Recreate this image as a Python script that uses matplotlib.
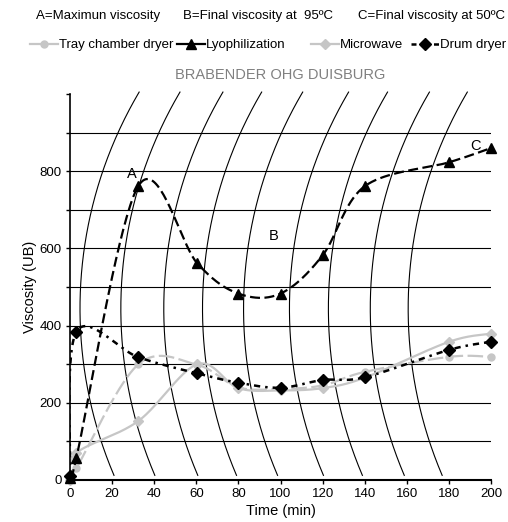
import numpy as np
from matplotlib import pyplot as plt
from matplotlib.lines import Line2D

# time (min) of the readings
time_min = [0, 3, 32.5, 60.5, 80, 100, 120, 140, 180, 200]

# viscosity (UB) for each drying method
tray_ub = [0, 30, 300, 298, 240, 236, 245, 280, 319, 319]
lyo_ub = [5, 57, 762, 561, 483, 483, 582, 761, 823, 860]
microwave_ub = [0, 70, 153, 300, 238, 232, 238, 265, 358, 379]
drum_ub = [10, 384, 318, 276, 252, 239, 259, 266, 337, 358]

# where the curved time lines of the recorder paper meet the bottom
paper_lines = [20.9, 40.3, 60.7, 79.1, 98.6, 120.4, 138.9, 158.8, 176.8]

x_ticks = [0, 20, 40, 60, 80, 100, 120, 140, 160, 180, 200]
y_ticks = [0, 100, 200, 300, 400, 500, 600, 700, 800, 900, 1000]
y_labels = ['0', '', '200', '', '400', '', '600', '', '800', '', '']

GRAY = '#c6c6c6'
plt.rcParams['font.family'] = ['Liberation Sans', 'DejaVu Sans']


# Bezier smoothing, close to what a spreadsheet "smoothed line" does
def smooth(xs, ys, n=40):
    pts = np.column_stack([xs, ys]).astype(float)
    out = []
    for i in range(len(pts) - 1):
        p0 = pts[i - 1] if i > 0 else pts[i]
        p1 = pts[i]
        p2 = pts[i + 1]
        p3 = pts[i + 2] if i + 2 < len(pts) else pts[i + 1]
        c1 = p1 + (p2 - p0) / 6
        c2 = p2 - (p3 - p1) / 6
        s = np.linspace(0, 1, n)[:, None]
        seg = ((1 - s) ** 3 * p1 + 3 * (1 - s) ** 2 * s * c1 +
               3 * (1 - s) * s ** 2 * c2 + s ** 3 * p2)
        out.append(seg if i == 0 else seg[1:])
    curve = np.vstack(out)
    return curve[:, 0], curve[:, 1]


fig = plt.figure(figsize=(5.08, 5.22), dpi=100)
ax = fig.add_axes([70 / 508, 42 / 522, 421 / 508, 386 / 522])
ax.set_xlim(0, 200)
ax.set_ylim(0, 1000)

# recorder paper: horizontal lines and arcs
for v in range(100, 1000, 100):
    ax.axhline(v, color='black', lw=0.8, zorder=1)

rx, ry, uc = 202.4, 1103.6, 444
u = np.linspace(12, 1005, 200)
for t0 in paper_lines:
    tc = t0 + rx * np.sqrt(1 - ((12 - uc) / ry) ** 2)
    ax.plot(tc - rx * np.sqrt(1 - ((u - uc) / ry) ** 2), u,
            color='black', lw=0.8, zorder=1, clip_on=False)

# data series
x, y = smooth(time_min, microwave_ub)
ax.plot(x, y, color=GRAY, lw=1.6, zorder=2)
ax.plot(time_min, microwave_ub, 'D', color=GRAY, ms=5, zorder=2,
        clip_on=False)

x, y = smooth(time_min, tray_ub)
ax.plot(x, y, color=GRAY, lw=1.6, ls=(0, (7, 2)), zorder=2)
ax.plot(time_min, tray_ub, 'o', color=GRAY, ms=5, zorder=2, clip_on=False)

x, y = smooth(time_min, drum_ub)
ax.plot(x, y, color='black', lw=1.8, ls=(0, (2.5, 2, 1, 2)), zorder=3)
ax.plot(time_min, drum_ub, 'D', color='black', ms=6, zorder=3,
        clip_on=False)

x, y = smooth(time_min, lyo_ub)
ax.plot(x, y, color='black', lw=1.6, ls=(0, (4.5, 2)), zorder=3)
ax.plot(time_min, lyo_ub, '^', color='black', ms=7, zorder=3,
        clip_on=False)

ax.text(29.5, 793, 'A', fontsize=10.5, ha='center', va='center')
ax.text(96.7, 633, 'B', fontsize=10.5, ha='center', va='center')
ax.text(192.4, 866, 'C', fontsize=10.5, ha='center', va='center')

# axes look
for side in ['top', 'right']:
    ax.spines[side].set_visible(False)
ax.spines['left'].set_linewidth(1.2)
ax.spines['bottom'].set_linewidth(1.5)
ax.set_xticks(x_ticks)
ax.set_yticks(y_ticks)
ax.set_yticklabels(y_labels)
ax.tick_params(labelsize=9.5, length=3, width=1, pad=3, color='black')
ax.set_xlabel('Time (min)', fontsize=10.5, labelpad=3)
ax.set_ylabel('Viscosity (UB)', fontsize=10.5, labelpad=1.5)
ax.set_title('BRABENDER OHG DUISBURG', fontsize=10.5, color='#808080',
             pad=11)

# key lines on top
fig.text(36 / 508, 1 - 16 / 522, 'A=Maximun viscosity', fontsize=9.5,
         va='center')
fig.text(183 / 508, 1 - 16 / 522, 'B=Final viscosity at  95ºC',
         fontsize=9.5, va='center')
fig.text(358 / 508, 1 - 16 / 522, 'C=Final viscosity at 50ºC',
         fontsize=9.5, va='center')

handles = [
    Line2D([], [], color=GRAY, lw=1.6, marker='o', ms=5),
    Line2D([], [], color='black', lw=1.6, marker='^', ms=7),
    Line2D([], [], color=GRAY, lw=1.6, marker='D', ms=5),
    Line2D([], [], color='black', lw=1.8, ls=(0, (2, 2.5)), marker='D',
           ms=6),
]
names = ['Tray chamber dryer', 'Lyophilization', 'Microwave', 'Drum dryer']
key_x = [30, 177, 311, 411]
for h, name, kx in zip(handles, names, key_x):
    fig.legend([h], [name], loc='center left',
               bbox_to_anchor=(kx / 508, 1 - 45 / 522), frameon=False,
               fontsize=9.5, handlelength=2.1, handletextpad=0.1,
               borderpad=0, borderaxespad=0)

fig.savefig('out.png', dpi=100)
